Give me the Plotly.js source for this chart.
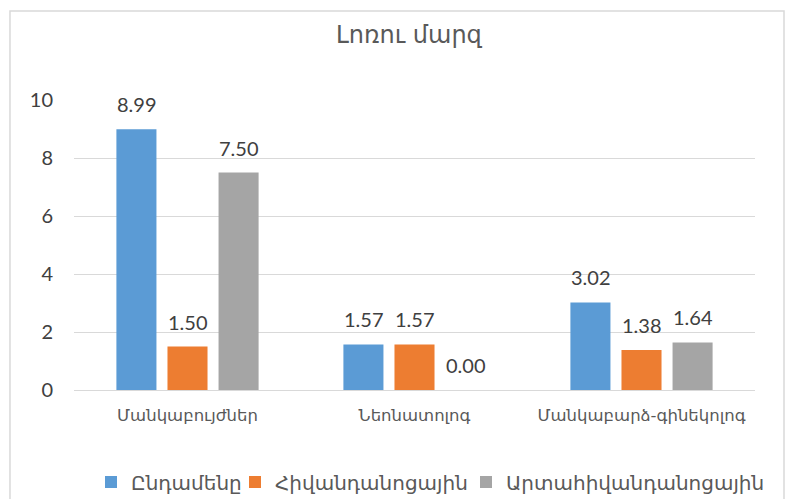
<!DOCTYPE html>
<html><head><meta charset="utf-8">
<script src="https://cdn.plot.ly/plotly-3.0.1.min.js"></script>
<style>html,body{margin:0;padding:0;background:#fff}#c{width:794px;height:499px}</style>
</head><body><div id="c"></div>
<script>
const categories = ["Մանկաբույժներ", "Նեոնատոլոգ", "Մանկաբարձ-գինեկոլոգ"];
const seriesNames = ["Ընդամենը", "Հիվանդանոցային", "Արտահիվանդանոցային"];
const totalVals = [8.99, 1.57, 3.02];
const hospVals = [1.50, 1.57, 1.38];
const outVals = [7.50, 0.00, 1.64];
const colors = ["#5B9BD5", "#ED7D31", "#A5A5A5"];
const yTicks = [0, 2, 4, 6, 8, 10];

const allVals = [totalVals, hospVals, outVals];
const numFont = {family: "Lato, 'Open Sans', sans-serif", size: 20, color: "#404040"};
const armFont = (s) => ({family: "'DejaVu Sans', sans-serif", size: s, color: "#595959"});
const legendIds = ["legend", "legend2", "legend3"];
const legendX = [91, 235, 466];   // left edges (px) of the three legend entries

const traces = allVals.map((v, i) => ({
  type: "bar", name: seriesNames[i], x: categories, y: v,
  marker: {color: colors[i]}, legend: legendIds[i], hoverinfo: "x+y+name"
}));

// value labels anchored to each bar's data value via the axes
const annotations = [];
allVals.forEach((v, i) => {
  v.forEach((d, j) => {
    annotations.push({
      x: categories[j], y: d, xref: "x", yref: "y",
      text: d.toFixed(2), showarrow: false,
      xanchor: "center", yanchor: "bottom",
      xshift: (i - 1) * 51, yshift: 11,
      font: numFont
    });
  });
});

const layout = {
  width: 794, height: 499,
  margin: {l: 74, r: 39, t: 100, b: 109},
  paper_bgcolor: "#fff", plot_bgcolor: "#fff",
  title: {text: "Լոռու մարզ", x: 0.515, xanchor: "center", y: 0.93, yanchor: "middle",
          font: armFont(24)},
  barmode: "group", bargap: 0.325, bargroupgap: 0.216,
  xaxis: {tickfont: armFont(16.5), showline: true, linecolor: "#d9d9d9", linewidth: 1,
          ticks: "", automargin: false, ticklabelstandoff: 10, fixedrange: true},
  yaxis: {range: [0, 10], tickvals: yTicks, ticktext: yTicks.map(String),
          tickfont: numFont, gridcolor: "#d9d9d9", gridwidth: 1, zeroline: false,
          ticks: "", automargin: false, ticklabelstandoff: 20, fixedrange: true},
  showlegend: true,
  annotations: annotations,
  shapes: [{type: "rect", xref: "paper", yref: "paper", x0: -0.094, x1: 1.0426, y0: -0.45, y1: 1.3069,
            line: {color: "#d9d9d9", width: 1.5}, layer: "below"}]
};
legendIds.forEach((id, i) => {
  layout[id] = {orientation: "h", xref: "container", yref: "container",
                x: legendX[i] / 794, xanchor: "left", y: 1 - 482 / 499, yanchor: "middle",
                font: armFont(20), itemwidth: 30, bgcolor: "rgba(0,0,0,0)"};
});
Plotly.newPlot("c", traces, layout, {displayModeBar: false});
</script></body></html>
